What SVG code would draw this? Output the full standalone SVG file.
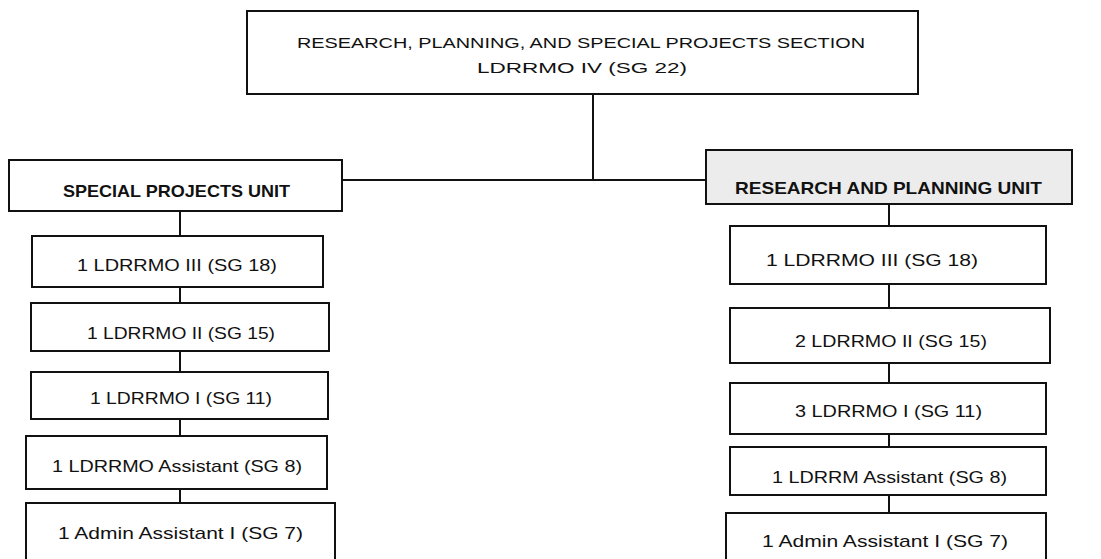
<svg xmlns="http://www.w3.org/2000/svg" width="1101" height="559" viewBox="0 0 1101 559">
<style>
.box{fill:#fff;stroke:#111;stroke-width:2}
.unit{fill:#ececec;stroke:#111;stroke-width:2}
.t{font-family:"Liberation Sans",Arial,sans-serif;font-size:17px;fill:#111}
.b{font-family:"Liberation Sans",Arial,sans-serif;font-size:17px;font-weight:bold;fill:#111}
.ttl{font-family:"Liberation Sans",Arial,sans-serif;font-size:14.5px;fill:#111}
.c{fill:none;stroke:#111;stroke-width:2}
</style>
<rect width="1101" height="559" fill="#fff"/>
<g id="connectors">
<path class="c" d="M593 94V180M342 180H706"/>
<path class="c" d="M180 211V236M180 287V303M180 351V372M180 419V436M180 489V503"/>
<path class="c" d="M889 204V226M889 284V308M889 363V383M889 434V447M889 495V513"/>
</g>
<g id="section">
<rect class="box" x="247" y="11" width="671" height="83"/>
<text class="ttl" x="297" y="48" textLength="568" lengthAdjust="spacingAndGlyphs">RESEARCH, PLANNING, AND SPECIAL PROJECTS SECTION</text>
<text class="ttl" x="477" y="73" textLength="210" lengthAdjust="spacingAndGlyphs">LDRRMO IV (SG 22)</text>
</g>
<g id="spu">
<rect class="box" x="9" y="160" width="333" height="51"/>
<text class="b" x="63" y="197" textLength="227" lengthAdjust="spacingAndGlyphs">SPECIAL PROJECTS UNIT</text>
</g>
<g id="rpu">
<rect class="unit" x="706" y="150" width="366" height="54"/>
<text class="b" x="735" y="194" textLength="307" lengthAdjust="spacingAndGlyphs">RESEARCH AND PLANNING UNIT</text>
</g>
<g id="l1"><rect class="box" x="32" y="236" width="291" height="51"/><text class="t" x="77" y="271" textLength="200" lengthAdjust="spacingAndGlyphs">1 LDRRMO III (SG 18)</text></g>
<g id="l2"><rect class="box" x="31" y="303" width="298" height="48"/><text class="t" x="87" y="339" textLength="188" lengthAdjust="spacingAndGlyphs">1 LDRRMO II (SG 15)</text></g>
<g id="l3"><rect class="box" x="31" y="372" width="297" height="47"/><text class="t" x="90" y="404" textLength="182" lengthAdjust="spacingAndGlyphs">1 LDRRMO I (SG 11)</text></g>
<g id="l4"><rect class="box" x="26" y="436" width="301" height="53"/><text class="t" x="52" y="472" textLength="250" lengthAdjust="spacingAndGlyphs">1 LDRRMO Assistant (SG 8)</text></g>
<g id="l5"><rect class="box" x="26" y="503" width="309" height="70"/><text class="t" x="58" y="539" textLength="245" lengthAdjust="spacingAndGlyphs">1 Admin Assistant I (SG 7)</text></g>
<g id="r1"><rect class="box" x="730" y="226" width="316" height="58"/><text class="t" x="766" y="266" textLength="212" lengthAdjust="spacingAndGlyphs">1 LDRRMO III (SG 18)</text></g>
<g id="r2"><rect class="box" x="730" y="308" width="320" height="55"/><text class="t" x="795" y="347" textLength="192" lengthAdjust="spacingAndGlyphs">2 LDRRMO II (SG 15)</text></g>
<g id="r3"><rect class="box" x="730" y="383" width="316" height="51"/><text class="t" x="795" y="417" textLength="187" lengthAdjust="spacingAndGlyphs">3 LDRRMO I (SG 11)</text></g>
<g id="r4"><rect class="box" x="730" y="447" width="316" height="48"/><text class="t" x="772" y="483" textLength="235" lengthAdjust="spacingAndGlyphs">1 LDRRM Assistant (SG 8)</text></g>
<g id="r5"><rect class="box" x="726" y="513" width="320" height="60"/><text class="t" x="762" y="547" textLength="246" lengthAdjust="spacingAndGlyphs">1 Admin Assistant I (SG 7)</text></g>
</svg>
